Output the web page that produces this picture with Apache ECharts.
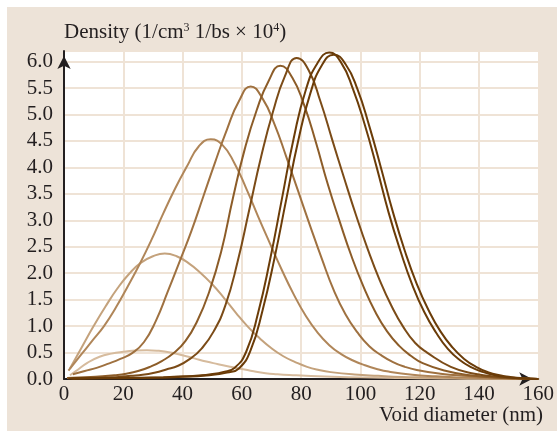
<!DOCTYPE html>
<html>
<head>
<meta charset="utf-8">
<script src="https://cdn.jsdelivr.net/npm/echarts@6/dist/echarts.min.js"></script>
<style>
  body { margin: 0; background: #fff; }
  #bg { position: absolute; left: 7px; top: 7px; width: 550px; height: 424px; background: #ede3d8; }
  #chart { position: absolute; left: 0; top: 0; width: 557px; height: 431px; }
</style>
</head>
<body>
<div id="bg"></div>
<div id="chart"></div>
<script>
var yTicks = [0, 0.5, 1, 1.5, 2, 2.5, 3, 3.5, 4, 4.5, 5, 5.5, 6];

// each curve: void diameter (nm) and density, sampled around its own peak
var x1 = [2, 4, 8, 12, 16, 20, 24, 28, 32, 36, 40, 44, 48, 52, 56, 60, 64, 68, 72, 76, 80, 88, 96, 104, 112, 120, 128, 136, 144, 152, 160];
var y1 = [0.07, 0.15, 0.31, 0.42, 0.48, 0.515, 0.537, 0.545, 0.532, 0.5, 0.45, 0.39, 0.33, 0.28, 0.23, 0.19, 0.145, 0.11, 0.09, 0.075, 0.065, 0.045, 0.035, 0.027, 0.02, 0.015, 0.01, 0.007, 0.004, 0.002, 0];

var x2 = [2, 6, 10, 14, 18, 22, 26, 30, 34, 38, 42, 46, 50, 54, 58, 62, 66, 70, 74, 78, 82, 86, 90, 98, 106, 114, 122, 130, 138, 146, 154, 160];
var y2 = [0.2, 0.6, 1.0, 1.37, 1.71, 1.99, 2.2, 2.32, 2.37, 2.32, 2.19, 2.01, 1.79, 1.53, 1.25, 0.99, 0.77, 0.58, 0.43, 0.32, 0.23, 0.17, 0.13, 0.085, 0.06, 0.04, 0.03, 0.02, 0.012, 0.006, 0.002, 0];

var x3 = [1.5, 5.5, 9.5, 13.5, 17.5, 21.5, 25.5, 29.5, 33.5, 37.5, 41.5, 45.5, 49.5, 53.5, 57.5, 61.5, 65.5, 69.5, 73.5, 77.5, 81.5, 85.5, 89.5, 93.5, 97.5, 101.5, 105.5, 109.5, 117.5, 125.5, 133.5, 141.5, 149.5, 160];
var y3 = [0.16, 0.44, 0.72, 1.0, 1.35, 1.75, 2.17, 2.63, 3.13, 3.6, 4.02, 4.4, 4.53, 4.42, 4.08, 3.6, 3.07, 2.56, 2.06, 1.6, 1.2, 0.88, 0.64, 0.47, 0.35, 0.26, 0.19, 0.14, 0.08, 0.05, 0.03, 0.015, 0.007, 0];

var x4 = [3, 7, 11, 15, 19, 23, 27, 31, 35, 39, 43, 47, 51, 55, 59, 63, 67, 71, 75, 79, 83, 87, 91, 95, 99, 103, 107, 111, 115, 119, 127, 135, 143, 151, 160];
var y4 = [0.09, 0.15, 0.21, 0.29, 0.38, 0.49, 0.7, 1.1, 1.65, 2.22, 2.8, 3.45, 4.1, 4.72, 5.25, 5.53, 5.3, 4.82, 4.2, 3.55, 2.9, 2.27, 1.68, 1.22, 0.88, 0.62, 0.45, 0.32, 0.23, 0.17, 0.1, 0.06, 0.035, 0.015, 0];

var x5 = [1, 5, 9, 13, 17, 21, 25, 29, 33, 37, 41, 45, 49, 53, 57, 61, 65, 69, 73, 77, 81, 85, 89, 93, 97, 101, 105, 109, 113, 117, 121, 129, 137, 145, 153, 160];
var y5 = [0.02, 0.03, 0.04, 0.05, 0.07, 0.1, 0.15, 0.23, 0.34, 0.49, 0.72, 1.1, 1.65, 2.4, 3.42, 4.35, 5.08, 5.63, 5.92, 5.7, 5.18, 4.47, 3.68, 2.98, 2.32, 1.75, 1.27, 0.9, 0.63, 0.44, 0.3, 0.15, 0.07, 0.03, 0.01, 0];

var x6 = [2.5, 6.5, 10.5, 14.5, 18.5, 22.5, 26.5, 30.5, 34.5, 38.5, 42.5, 46.5, 50.5, 54.5, 58.5, 62.5, 66.5, 70.5, 74.5, 78.5, 82.5, 86.5, 90.5, 94.5, 98.5, 102.5, 106.5, 110.5, 114.5, 118.5, 122.5, 130.5, 138.5, 146.5, 154.5, 160];
var y6 = [0.01, 0.015, 0.02, 0.03, 0.04, 0.06, 0.08, 0.12, 0.18, 0.25, 0.38, 0.58, 0.9, 1.4, 2.2, 3.2, 4.2, 5.05, 5.72, 6.07, 5.84, 5.25, 4.52, 3.8, 3.1, 2.45, 1.87, 1.38, 0.98, 0.68, 0.5, 0.23, 0.1, 0.04, 0.015, 0];

var x7 = [1.5, 9.5, 17.5, 25.5, 33.5, 41.5, 45.5, 49.5, 53.5, 57.5, 61.5, 65.5, 69.5, 73.5, 77.5, 81.5, 85.5, 89.5, 93.5, 97.5, 101.5, 105.5, 109.5, 113.5, 117.5, 121.5, 125.5, 129.5, 133.5, 137.5, 141.5, 145.5, 149.5, 153.5, 160];
var y7 = [0.01, 0.015, 0.02, 0.025, 0.035, 0.05, 0.065, 0.09, 0.13, 0.21, 0.52, 1.25, 2.25, 3.4, 4.55, 5.45, 5.97, 6.17, 5.98, 5.48, 4.8, 4.0, 3.15, 2.42, 1.78, 1.27, 0.88, 0.57, 0.36, 0.22, 0.13, 0.07, 0.035, 0.015, 0];

var x8 = [3, 11, 19, 27, 35, 43, 47, 51, 55, 59, 63, 67, 71, 75, 79, 83, 87, 91, 95, 99, 103, 107, 111, 115, 119, 123, 127, 131, 135, 139, 143, 147, 151, 155, 160];
var y8 = [0.01, 0.012, 0.015, 0.02, 0.03, 0.045, 0.06, 0.085, 0.12, 0.2, 0.55, 1.3, 2.28, 3.4, 4.5, 5.38, 5.93, 6.13, 5.95, 5.48, 4.78, 3.98, 3.15, 2.42, 1.8, 1.3, 0.9, 0.6, 0.38, 0.23, 0.13, 0.07, 0.035, 0.015, 0];

var curves = [[x1, y1], [x2, y2], [x3, y3], [x4, y4], [x5, y5], [x6, y6], [x7, y7], [x8, y8]];
var colors = ['#d6bb9d', '#c4a27c', '#b08659', '#9f7140', '#8c5c28', '#7b4b17', '#6b3c08', '#6b3c08'];

var serif = '"Liberation Serif", "Times New Roman", serif';
var ink = '#231f20';

function pairs(xs, ys) {
	return xs.map(function (x, i) { return [x, ys[i]]; });
}

var series = curves.map(function (c, i) {
	return {
		type: 'line',
		data: pairs(c[0], c[1]),
		smooth: true,
		showSymbol: false,
		silent: true,
		lineStyle: { color: colors[i], width: 2 }
	};
});

var chart = echarts.init(document.getElementById('chart'));
chart.setOption({
	backgroundColor: 'transparent',
	animation: false,
	title: {
		left: 59,
		top: 17,
		text: '{a|Density (1/cm}{s|3}{a| 1/bs × 10}{s|4}{a|)}',
		textStyle: {
			fontWeight: 'normal',
			rich: {
				a: { fontFamily: serif, fontSize: 21, fontWeight: 'normal', color: ink },
				s: { fontFamily: serif, fontSize: 12, fontWeight: 'normal', color: ink, verticalAlign: 'top', lineHeight: 12 }
			}
		}
	},
	graphic: [{
		type: 'text',
		right: 14,
		top: 405,
		style: { text: 'Void diameter (nm)', font: '21px ' + serif, fill: ink }
	}],
	grid: {
		left: 64, right: 13, top: 51, bottom: 52,
		show: true, backgroundColor: '#fff', borderWidth: 0
	},
	xAxis: {
		type: 'value',
		min: 0, max: 160, interval: 20,
		axisLine: { lineStyle: { color: ink, width: 2 }, symbol: ['none', 'arrow'], symbolSize: [10, 13], symbolOffset: [0, -6] },
		axisTick: { show: false },
		axisLabel: { fontFamily: serif, fontSize: 21, color: ink, margin: 5 },
		splitLine: { lineStyle: { color: '#efe3d6', width: 2 } }
	},
	yAxis: {
		type: 'value',
		min: 0, max: 6.2, interval: 0.5,
		axisLine: { show: true, lineStyle: { color: ink, width: 2 }, symbol: ['none', 'arrow'], symbolSize: [10, 13], symbolOffset: [0, -5] },
		axisTick: { show: false },
		axisLabel: {
			fontFamily: serif, fontSize: 21, color: ink, margin: 11,
			formatter: function (v) { return yTicks.indexOf(v) >= 0 ? v.toFixed(1) : ''; }
		},
		splitLine: { lineStyle: { color: '#efe3d6', width: 2 } }
	},
	series: series
});
</script>
</body>
</html>
